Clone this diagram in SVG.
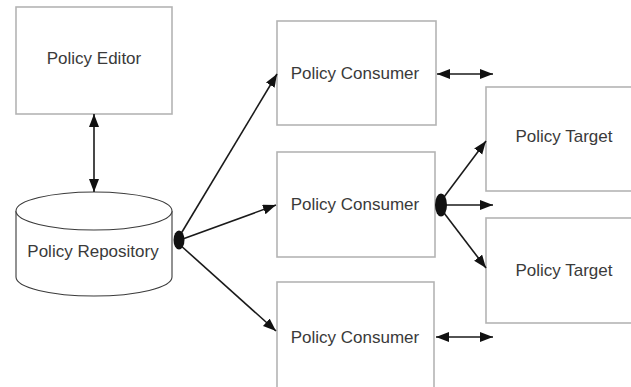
<svg xmlns="http://www.w3.org/2000/svg" width="631" height="387" viewBox="0 0 631 387">
  <style>
    .box { fill: #ffffff; stroke: #b4b4b4; stroke-width: 1.6; }
    .db { fill: #ffffff; stroke: #3a3a3a; stroke-width: 1.1; }
    .label { font-family: "Liberation Sans", Arial, sans-serif; font-size: 17px; fill: #3a3a3a; text-anchor: middle; }
    .link { fill: none; stroke: #1a1a1a; stroke-width: 1.6; }
    .hub { fill: #111111; }
  </style>
  <defs>
    <marker id="head" markerUnits="userSpaceOnUse" markerWidth="14" markerHeight="11" refX="13" refY="5" orient="auto-start-reverse">
      <path d="M0,0 L13,5 L0,10 z" fill="#111"/>
    </marker>
  </defs>
  <rect width="631" height="387" fill="#ffffff"/>

  <g id="policy-editor">
    <rect class="box" x="16" y="7" width="156" height="107"/>
    <text class="label" x="94" y="64">Policy Editor</text>
  </g>

  <g id="policy-repository">
    <path class="db" d="M16,211 L16,277 A78,19 0 0 0 172,277 L172,211"/>
    <ellipse class="db" cx="94" cy="211" rx="78" ry="19"/>
    <text class="label" x="93" y="257">Policy Repository</text>
  </g>

  <g id="policy-consumer-1">
    <rect class="box" x="277" y="21" width="159" height="104"/>
    <text class="label" x="355" y="79">Policy Consumer</text>
  </g>

  <g id="policy-consumer-2">
    <rect class="box" x="277" y="152" width="158" height="105"/>
    <text class="label" x="355" y="210">Policy Consumer</text>
  </g>

  <g id="policy-consumer-3">
    <rect class="box" x="277" y="282" width="157" height="120"/>
    <text class="label" x="355" y="343">Policy Consumer</text>
  </g>

  <g id="policy-target-1">
    <rect class="box" x="486" y="87" width="160" height="104"/>
    <text class="label" x="564" y="142">Policy Target</text>
  </g>

  <g id="policy-target-2">
    <rect class="box" x="486" y="218" width="160" height="105"/>
    <text class="label" x="564" y="276">Policy Target</text>
  </g>

  <g id="connectors">
    <!-- editor to repository -->
    <line class="link" x1="94" y1="114" x2="94" y2="192" marker-start="url(#head)" marker-end="url(#head)"/>
    <!-- repository fan-out, joined at a solid hub -->
    <line class="link" x1="179" y1="237" x2="277" y2="74" marker-end="url(#head)"/>
    <line class="link" x1="180" y1="240" x2="276" y2="205" marker-end="url(#head)"/>
    <line class="link" x1="179" y1="244" x2="276" y2="331" marker-end="url(#head)"/>
    <ellipse class="hub" cx="179" cy="240" rx="5.5" ry="9.5"/>
    <!-- consumer to target links -->
    <line class="link" x1="437" y1="74" x2="493" y2="74" marker-start="url(#head)" marker-end="url(#head)"/>
    <line class="link" x1="436" y1="337" x2="493" y2="337" marker-start="url(#head)" marker-end="url(#head)"/>
    <line class="link" x1="441" y1="201" x2="486" y2="141" marker-end="url(#head)"/>
    <line class="link" x1="442" y1="205" x2="493" y2="205" marker-end="url(#head)"/>
    <line class="link" x1="441" y1="209" x2="486" y2="268" marker-end="url(#head)"/>
    <ellipse class="hub" cx="441" cy="205" rx="6" ry="11.5"/>
  </g>
</svg>
